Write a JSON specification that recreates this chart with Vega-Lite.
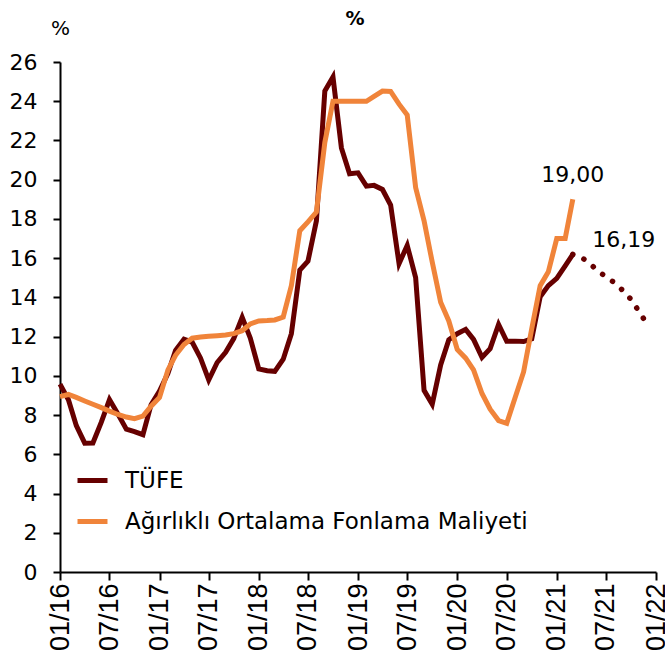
{
  "$schema": "https://vega.github.io/schema/vega-lite/v6.json",
  "width": 596,
  "height": 510,
  "autosize": {"type": "none"},
  "padding": {"left": 60, "top": 62, "right": 9, "bottom": 92},
  "background": "white",
  "title": {"text": "%", "fontSize": 19, "fontWeight": "bold", "font": "DejaVu Sans", "color": "black", "anchor": "middle", "offset": 0, "dy": 11, "dx": -3},
  "config": {
    "view": {"stroke": null},
    "locale": {"number": {"decimal": ",", "thousands": ".", "grouping": [3], "currency": ["", " TL"]}},
    "axis": {"grid": false, "domainColor": "black", "tickColor": "black", "labelColor": "black", "titleColor": "black", "domainWidth": 2, "tickWidth": 2}
  },
  "data": {"values": [
    {"date":"2016/01/01","series":"TÜFE","value":9.58},
    {"date":"2016/02/01","series":"TÜFE","value":8.78},
    {"date":"2016/03/01","series":"TÜFE","value":7.46},
    {"date":"2016/04/01","series":"TÜFE","value":6.57},
    {"date":"2016/05/01","series":"TÜFE","value":6.58},
    {"date":"2016/06/01","series":"TÜFE","value":7.64},
    {"date":"2016/07/01","series":"TÜFE","value":8.79},
    {"date":"2016/08/01","series":"TÜFE","value":8.05},
    {"date":"2016/09/01","series":"TÜFE","value":7.28},
    {"date":"2016/10/01","series":"TÜFE","value":7.16},
    {"date":"2016/11/01","series":"TÜFE","value":7.00},
    {"date":"2016/12/01","series":"TÜFE","value":8.53},
    {"date":"2017/01/01","series":"TÜFE","value":9.22},
    {"date":"2017/02/01","series":"TÜFE","value":10.13},
    {"date":"2017/03/01","series":"TÜFE","value":11.29},
    {"date":"2017/04/01","series":"TÜFE","value":11.87},
    {"date":"2017/05/01","series":"TÜFE","value":11.72},
    {"date":"2017/06/01","series":"TÜFE","value":10.90},
    {"date":"2017/07/01","series":"TÜFE","value":9.79},
    {"date":"2017/08/01","series":"TÜFE","value":10.68},
    {"date":"2017/09/01","series":"TÜFE","value":11.20},
    {"date":"2017/10/01","series":"TÜFE","value":11.90},
    {"date":"2017/11/01","series":"TÜFE","value":12.98},
    {"date":"2017/12/01","series":"TÜFE","value":11.92},
    {"date":"2018/01/01","series":"TÜFE","value":10.35},
    {"date":"2018/02/01","series":"TÜFE","value":10.26},
    {"date":"2018/03/01","series":"TÜFE","value":10.23},
    {"date":"2018/04/01","series":"TÜFE","value":10.85},
    {"date":"2018/05/01","series":"TÜFE","value":12.15},
    {"date":"2018/06/01","series":"TÜFE","value":15.39},
    {"date":"2018/07/01","series":"TÜFE","value":15.85},
    {"date":"2018/08/01","series":"TÜFE","value":17.90},
    {"date":"2018/09/01","series":"TÜFE","value":24.52},
    {"date":"2018/10/01","series":"TÜFE","value":25.24},
    {"date":"2018/11/01","series":"TÜFE","value":21.62},
    {"date":"2018/12/01","series":"TÜFE","value":20.30},
    {"date":"2019/01/01","series":"TÜFE","value":20.35},
    {"date":"2019/02/01","series":"TÜFE","value":19.67},
    {"date":"2019/03/01","series":"TÜFE","value":19.71},
    {"date":"2019/04/01","series":"TÜFE","value":19.50},
    {"date":"2019/05/01","series":"TÜFE","value":18.71},
    {"date":"2019/06/01","series":"TÜFE","value":15.72},
    {"date":"2019/07/01","series":"TÜFE","value":16.65},
    {"date":"2019/08/01","series":"TÜFE","value":15.01},
    {"date":"2019/09/01","series":"TÜFE","value":9.26},
    {"date":"2019/10/01","series":"TÜFE","value":8.55},
    {"date":"2019/11/01","series":"TÜFE","value":10.56},
    {"date":"2019/12/01","series":"TÜFE","value":11.84},
    {"date":"2020/01/01","series":"TÜFE","value":12.15},
    {"date":"2020/02/01","series":"TÜFE","value":12.37},
    {"date":"2020/03/01","series":"TÜFE","value":11.86},
    {"date":"2020/04/01","series":"TÜFE","value":10.94},
    {"date":"2020/05/01","series":"TÜFE","value":11.39},
    {"date":"2020/06/01","series":"TÜFE","value":12.62},
    {"date":"2020/07/01","series":"TÜFE","value":11.76},
    {"date":"2020/08/01","series":"TÜFE","value":11.77},
    {"date":"2020/09/01","series":"TÜFE","value":11.75},
    {"date":"2020/10/01","series":"TÜFE","value":11.89},
    {"date":"2020/11/01","series":"TÜFE","value":14.03},
    {"date":"2020/12/01","series":"TÜFE","value":14.60},
    {"date":"2021/01/01","series":"TÜFE","value":14.97},
    {"date":"2021/02/01","series":"TÜFE","value":15.61},
    {"date":"2021/03/01","series":"TÜFE","value":16.19},
    {"date":"2016/01/01","series":"Ağırlıklı Ortalama Fonlama Maliyeti","value":8.94},
    {"date":"2016/02/01","series":"Ağırlıklı Ortalama Fonlama Maliyeti","value":9.05},
    {"date":"2016/03/01","series":"Ağırlıklı Ortalama Fonlama Maliyeti","value":8.9},
    {"date":"2016/04/01","series":"Ağırlıklı Ortalama Fonlama Maliyeti","value":8.72},
    {"date":"2016/05/01","series":"Ağırlıklı Ortalama Fonlama Maliyeti","value":8.55},
    {"date":"2016/06/01","series":"Ağırlıklı Ortalama Fonlama Maliyeti","value":8.38},
    {"date":"2016/07/01","series":"Ağırlıklı Ortalama Fonlama Maliyeti","value":8.2},
    {"date":"2016/08/01","series":"Ağırlıklı Ortalama Fonlama Maliyeti","value":8.03},
    {"date":"2016/09/01","series":"Ağırlıklı Ortalama Fonlama Maliyeti","value":7.9},
    {"date":"2016/10/01","series":"Ağırlıklı Ortalama Fonlama Maliyeti","value":7.82},
    {"date":"2016/11/01","series":"Ağırlıklı Ortalama Fonlama Maliyeti","value":7.95},
    {"date":"2016/12/01","series":"Ağırlıklı Ortalama Fonlama Maliyeti","value":8.45},
    {"date":"2017/01/01","series":"Ağırlıklı Ortalama Fonlama Maliyeti","value":8.9},
    {"date":"2017/02/01","series":"Ağırlıklı Ortalama Fonlama Maliyeti","value":10.3},
    {"date":"2017/03/01","series":"Ağırlıklı Ortalama Fonlama Maliyeti","value":11.05},
    {"date":"2017/04/01","series":"Ağırlıklı Ortalama Fonlama Maliyeti","value":11.6},
    {"date":"2017/05/01","series":"Ağırlıklı Ortalama Fonlama Maliyeti","value":11.92},
    {"date":"2017/06/01","series":"Ağırlıklı Ortalama Fonlama Maliyeti","value":11.98},
    {"date":"2017/07/01","series":"Ağırlıklı Ortalama Fonlama Maliyeti","value":12.02},
    {"date":"2017/08/01","series":"Ağırlıklı Ortalama Fonlama Maliyeti","value":12.05},
    {"date":"2017/09/01","series":"Ağırlıklı Ortalama Fonlama Maliyeti","value":12.08},
    {"date":"2017/10/01","series":"Ağırlıklı Ortalama Fonlama Maliyeti","value":12.15},
    {"date":"2017/11/01","series":"Ağırlıklı Ortalama Fonlama Maliyeti","value":12.3},
    {"date":"2017/12/01","series":"Ağırlıklı Ortalama Fonlama Maliyeti","value":12.65},
    {"date":"2018/01/01","series":"Ağırlıklı Ortalama Fonlama Maliyeti","value":12.8},
    {"date":"2018/02/01","series":"Ağırlıklı Ortalama Fonlama Maliyeti","value":12.82},
    {"date":"2018/03/01","series":"Ağırlıklı Ortalama Fonlama Maliyeti","value":12.85},
    {"date":"2018/04/01","series":"Ağırlıklı Ortalama Fonlama Maliyeti","value":13.0},
    {"date":"2018/05/01","series":"Ağırlıklı Ortalama Fonlama Maliyeti","value":14.6},
    {"date":"2018/06/01","series":"Ağırlıklı Ortalama Fonlama Maliyeti","value":17.4},
    {"date":"2018/07/01","series":"Ağırlıklı Ortalama Fonlama Maliyeti","value":17.85},
    {"date":"2018/08/01","series":"Ağırlıklı Ortalama Fonlama Maliyeti","value":18.35},
    {"date":"2018/09/01","series":"Ağırlıklı Ortalama Fonlama Maliyeti","value":21.9},
    {"date":"2018/10/01","series":"Ağırlıklı Ortalama Fonlama Maliyeti","value":24.0},
    {"date":"2018/11/01","series":"Ağırlıklı Ortalama Fonlama Maliyeti","value":24.0},
    {"date":"2018/12/01","series":"Ağırlıklı Ortalama Fonlama Maliyeti","value":24.0},
    {"date":"2019/01/01","series":"Ağırlıklı Ortalama Fonlama Maliyeti","value":24.0},
    {"date":"2019/02/01","series":"Ağırlıklı Ortalama Fonlama Maliyeti","value":24.0},
    {"date":"2019/03/01","series":"Ağırlıklı Ortalama Fonlama Maliyeti","value":24.25},
    {"date":"2019/04/01","series":"Ağırlıklı Ortalama Fonlama Maliyeti","value":24.52},
    {"date":"2019/05/01","series":"Ağırlıklı Ortalama Fonlama Maliyeti","value":24.5},
    {"date":"2019/06/01","series":"Ağırlıklı Ortalama Fonlama Maliyeti","value":23.85},
    {"date":"2019/07/01","series":"Ağırlıklı Ortalama Fonlama Maliyeti","value":23.3},
    {"date":"2019/08/01","series":"Ağırlıklı Ortalama Fonlama Maliyeti","value":19.6},
    {"date":"2019/09/01","series":"Ağırlıklı Ortalama Fonlama Maliyeti","value":17.9},
    {"date":"2019/10/01","series":"Ağırlıklı Ortalama Fonlama Maliyeti","value":15.8},
    {"date":"2019/11/01","series":"Ağırlıklı Ortalama Fonlama Maliyeti","value":13.75},
    {"date":"2019/12/01","series":"Ağırlıklı Ortalama Fonlama Maliyeti","value":12.8},
    {"date":"2020/01/01","series":"Ağırlıklı Ortalama Fonlama Maliyeti","value":11.35},
    {"date":"2020/02/01","series":"Ağırlıklı Ortalama Fonlama Maliyeti","value":10.9},
    {"date":"2020/03/01","series":"Ağırlıklı Ortalama Fonlama Maliyeti","value":10.3},
    {"date":"2020/04/01","series":"Ağırlıklı Ortalama Fonlama Maliyeti","value":9.1},
    {"date":"2020/05/01","series":"Ağırlıklı Ortalama Fonlama Maliyeti","value":8.3},
    {"date":"2020/06/01","series":"Ağırlıklı Ortalama Fonlama Maliyeti","value":7.72},
    {"date":"2020/07/01","series":"Ağırlıklı Ortalama Fonlama Maliyeti","value":7.58},
    {"date":"2020/08/01","series":"Ağırlıklı Ortalama Fonlama Maliyeti","value":8.9},
    {"date":"2020/09/01","series":"Ağırlıklı Ortalama Fonlama Maliyeti","value":10.2},
    {"date":"2020/10/01","series":"Ağırlıklı Ortalama Fonlama Maliyeti","value":12.4},
    {"date":"2020/11/01","series":"Ağırlıklı Ortalama Fonlama Maliyeti","value":14.6},
    {"date":"2020/12/01","series":"Ağırlıklı Ortalama Fonlama Maliyeti","value":15.3},
    {"date":"2021/01/01","series":"Ağırlıklı Ortalama Fonlama Maliyeti","value":17.0},
    {"date":"2021/02/01","series":"Ağırlıklı Ortalama Fonlama Maliyeti","value":17.0},
    {"date":"2021/03/01","series":"Ağırlıklı Ortalama Fonlama Maliyeti","value":19.0},
    {"date":"2021/03/01","series":"TÜFE tahmin","value":16.19},
    {"date":"2021/04/01","series":"TÜFE tahmin","value":16.05},
    {"date":"2021/05/01","series":"TÜFE tahmin","value":15.75},
    {"date":"2021/06/01","series":"TÜFE tahmin","value":15.35},
    {"date":"2021/07/01","series":"TÜFE tahmin","value":15.05},
    {"date":"2021/08/01","series":"TÜFE tahmin","value":14.75},
    {"date":"2021/09/01","series":"TÜFE tahmin","value":14.35},
    {"date":"2021/10/01","series":"TÜFE tahmin","value":13.9},
    {"date":"2021/11/01","series":"TÜFE tahmin","value":13.25},
    {"date":"2021/12/01","series":"TÜFE tahmin","value":12.6}
  ]},
  "encoding": {
    "x": {
      "field": "date", "type": "temporal",
      "scale": {"domain": [{"year": 2016, "month": 1, "date": 1}, {"year": 2022, "month": 1, "date": 1}], "nice": false},
      "axis": {
        "title": null, "format": "%m/%y", "labelAngle": -90,
        "values": [
          {"year": 2016, "month": 1, "date": 1}, {"year": 2016, "month": 7, "date": 1},
          {"year": 2017, "month": 1, "date": 1}, {"year": 2017, "month": 7, "date": 1},
          {"year": 2018, "month": 1, "date": 1}, {"year": 2018, "month": 7, "date": 1},
          {"year": 2019, "month": 1, "date": 1}, {"year": 2019, "month": 7, "date": 1},
          {"year": 2020, "month": 1, "date": 1}, {"year": 2020, "month": 7, "date": 1},
          {"year": 2021, "month": 1, "date": 1}, {"year": 2021, "month": 7, "date": 1},
          {"year": 2022, "month": 1, "date": 1}
        ],
        "labelFont": "Liberation Sans", "labelFontSize": 27, "tickSize": 8, "labelPadding": 3, "labelFlush": false, "labelOverlap": false, "labelBound": false
      }
    },
    "y": {
      "field": "value", "type": "quantitative",
      "scale": {"domain": [0, 26], "nice": false},
      "axis": {
        "values": [0, 2, 4, 6, 8, 10, 12, 14, 16, 18, 20, 22, 24, 26],
        "labelFont": "DejaVu Sans", "labelFontSize": 22, "tickSize": 7, "labelPadding": 16,
        "title": "%", "titleAngle": 0, "titleX": 0, "titleY": -34, "titleAlign": "center", "titleBaseline": "middle",
        "titleFont": "DejaVu Sans", "titleFontSize": 20, "titleFontWeight": "normal"
      }
    }
  },
  "layer": [
    {
      "transform": [{"filter": "datum.series !== 'TÜFE tahmin'"}],
      "mark": {"type": "line", "strokeWidth": 5, "strokeJoin": "miter"},
      "encoding": {
        "color": {
          "field": "series", "type": "nominal",
          "scale": {"domain": ["TÜFE", "Ağırlıklı Ortalama Fonlama Maliyeti"], "range": ["#660000", "#F0843A"]},
          "sort": ["TÜFE", "Ağırlıklı Ortalama Fonlama Maliyeti"],
          "legend": {
            "title": null, "orient": "none", "legendX": 15, "legendY": 401,
            "symbolType": "stroke", "symbolSize": 900, "symbolStrokeWidth": 5,
            "labelFont": "DejaVu Sans", "labelFontSize": 23, "labelColor": "black", "labelLimit": 0,
            "rowPadding": 11, "labelOffset": 15, "padding": 0
          }
        }
      }
    },
    {
      "transform": [{"filter": "datum.series === 'TÜFE tahmin'"}],
      "mark": {"type": "line", "strokeWidth": 5.5, "strokeDash": [0.1, 12], "strokeCap": "round", "color": "#660000"}
    },
    {
      "transform": [{"filter": "datum.series === 'Ağırlıklı Ortalama Fonlama Maliyeti' && datum.value === 19"}],
      "mark": {"type": "text", "font": "DejaVu Sans", "fontSize": 22, "color": "black", "align": "center", "baseline": "alphabetic", "dx": 0, "dy": -17},
      "encoding": {"text": {"field": "value", "type": "quantitative", "format": ".2f"}}
    },
    {
      "transform": [{"filter": "datum.series === 'TÜFE' && datum.value === 16.19"}],
      "mark": {"type": "text", "font": "DejaVu Sans", "fontSize": 22, "color": "black", "align": "center", "baseline": "alphabetic", "dx": 51, "dy": -7},
      "encoding": {"text": {"field": "value", "type": "quantitative", "format": ".2f"}}
    }
  ]
}
